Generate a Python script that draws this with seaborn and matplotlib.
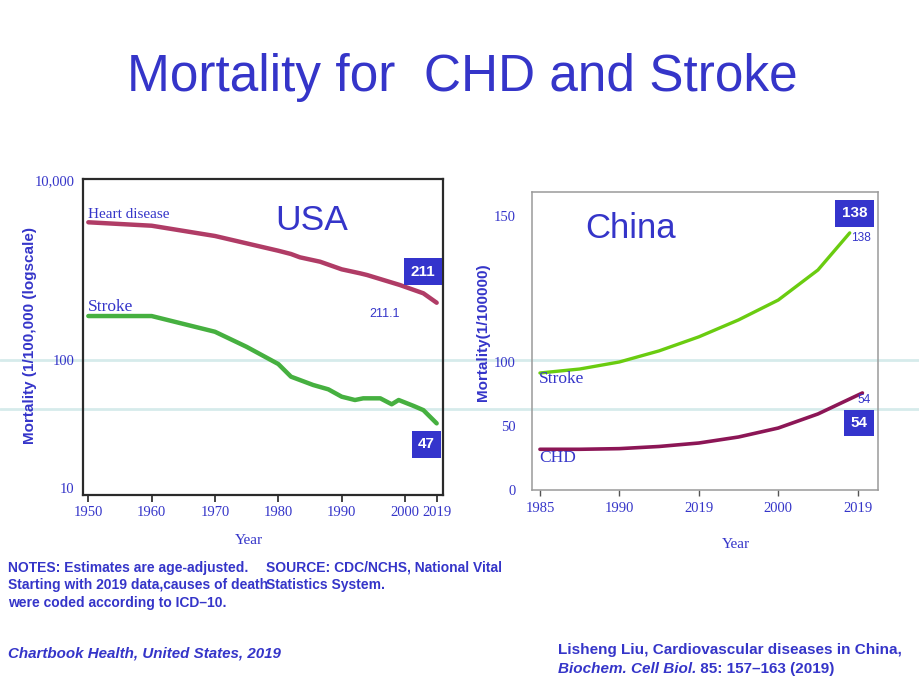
import numpy as np
import pandas as pd
import matplotlib
matplotlib.use('Agg')
import matplotlib.pyplot as plt
from matplotlib.lines import Line2D
from matplotlib.ticker import NullLocator
import seaborn as sns

# ---- data ----
usa_heart_years = [1950, 1960, 1970, 1980, 1982, 1983.4, 1986.6, 1990, 1992.9, 1994, 1999.2, 2002.9, 2005]
usa_heart = [3390, 3105, 2387, 1637, 1506, 1384, 1236, 1018, 919, 880, 681, 551, 433]

usa_stroke_years = [1950, 1960, 1970, 1975, 1980, 1982, 1983.4, 1985.5, 1987.9, 1990, 1992.1,
                    1993.4, 1996.1, 1997.9, 1999, 2001.4, 2002.9, 2005]
usa_stroke = [308, 308, 206, 140, 93, 74.1, 69.8, 63.8, 59.0, 51.7, 48.7,
              50.2, 50.2, 45.1, 48.7, 43.7, 40.6, 32]

usa_xticks = [1950, 1960, 1970, 1980, 1990, 2000, 2005]
usa_xlabels = ['1950', '1960', '1970', '1980', '1990', '2000', '2019']
usa_yticks = [10, 100, 10000]
usa_ylabels = ['10', '100', '10,000']

china_stroke_years = [1985, 1987.5, 1990, 1992.5, 1995, 1997.5, 2000, 2002.5, 2004.5]
china_stroke = [91.4, 94.5, 100, 103.8, 108.6, 114.4, 121.2, 131.5, 144.2]
china_chd_years = [1985, 1987.5, 1990, 1992.5, 1995, 1997.5, 2000, 2002.5, 2005.3]
china_chd = [31.8, 31.8, 32.3, 34.0, 36.7, 41.4, 48.4, 59.4, 75.8]

china_xticks = [1985, 1990, 1995, 2000, 2005]
china_xlabels = ['1985', '1990', '2019', '2000', '2019']
china_yticks = [0, 50, 100, 150]

BLUE = '#3535c9'
BOX = '#3434cc'
HEART = '#b03c66'
GREEN_US = '#46b040'
GREEN_CN = '#6acc10'
CHD = '#8c1656'
SERIF = 'Liberation Serif'
SANS = 'Liberation Sans'
NARROW = ['Liberation Sans Narrow', 'Liberation Sans']

sns.set_style('white')


# piecewise scales (the source picture is not evenly spaced)
def usa_fwd(y):
    l = np.log10(np.clip(y, 1e-6, None))
    return np.where(l <= 2, (l - 1) * 128, 128 + (l - 2) * 90)


def usa_inv(p):
    return np.where(p <= 128, 10 ** (1 + p / 128), 10 ** (2 + (p - 128) / 90))


def cn_fwd(y):
    y = np.asarray(y, dtype=float)
    return np.where(y <= 100, y * 1.28, 128 + (y - 100) * 2.92)


def cn_inv(p):
    p = np.asarray(p, dtype=float)
    return np.where(p <= 128, p / 1.28, 100 + (p - 128) / 2.92)


fig = plt.figure(figsize=(9.2, 6.9), dpi=100)
fig.patch.set_facecolor('white')

fig.text(0.503, 0.868, 'Mortality for  CHD and Stroke', ha='center', va='baseline',
         fontsize=37, color=BLUE, family=SANS)

# faint horizontal stripes that run across the whole slide (behind the charts)
for yp in (360, 409):
    fig.add_artist(Line2D([0, 1], [1 - yp / 690] * 2, transform=fig.transFigure,
                          color='#d6ebeb', lw=2, zorder=-1))

# ---------- USA ----------
ax1 = fig.add_axes([83 / 920, 1 - 495 / 690, 360 / 920, 316 / 690])
ax1.patch.set_visible(False)
ax1.set_yscale('function', functions=(usa_fwd, usa_inv))
sns.lineplot(x=usa_heart_years, y=usa_heart, ax=ax1, color=HEART, lw=3.2,
             solid_capstyle='round')
sns.lineplot(x=usa_stroke_years, y=usa_stroke, ax=ax1, color=GREEN_US, lw=3.2,
             solid_capstyle='round')
ax1.set_xlim(1949.16, 2006.0)
ax1.set_ylim(8.82, 10260)
ax1.set_xticks(usa_xticks)
ax1.set_xticklabels(usa_xlabels)
ax1.set_yticks(usa_yticks)
ax1.set_yticklabels(usa_ylabels)
ax1.yaxis.set_minor_locator(NullLocator())
ax1.tick_params(axis='x', length=5, width=1.2, color='#222222', direction='out',
                bottom=True, pad=3)
ax1.tick_params(axis='y', length=0, pad=6)
for lab in ax1.get_xticklabels() + ax1.get_yticklabels():
    lab.set_family(SERIF)
    lab.set_fontsize(10.5)
    lab.set_color(BLUE)
for s in ax1.spines.values():
    s.set_visible(True)
    s.set_color('#2a2a2a')
    s.set_linewidth(1.6)
ax1.set_xlabel('Year', family=SERIF, fontsize=11, color=BLUE, labelpad=8)
ax1.xaxis.set_label_coords(0.46, -0.125)
ax1.set_ylabel('Mortality (1/100,000 (logscale)', family=SANS, fontweight='bold',
               fontsize=11, color=BLUE)
ax1.yaxis.set_label_coords(-0.128, 0.505)

ax1.text(0.014, 0.889, 'Heart disease', transform=ax1.transAxes, family=SERIF,
         fontsize=11, color=BLUE, va='center', ha='left')
ax1.text(0.014, 0.595, 'Stroke', transform=ax1.transAxes, family=SERIF,
         fontsize=12.5, color=BLUE, va='center', ha='left')
ax1.text(0.635, 0.870, 'USA', transform=ax1.transAxes, family=SANS,
         fontsize=25.5, color=BLUE, va='center', ha='center')
ax1.text(0.8375, 0.573, '211.1', transform=ax1.transAxes, family=SANS,
         fontsize=9, color=BLUE, va='center', ha='center')
box = dict(boxstyle='square,pad=0.42', facecolor=BOX, edgecolor='none')
ax1.text(0.944, 0.707, '211', transform=ax1.transAxes, family=SANS, fontweight='bold',
         fontsize=11, color='white', va='center', ha='center', bbox=box)
ax1.text(0.954, 0.161, '47', transform=ax1.transAxes, family=SANS, fontweight='bold',
         fontsize=11, color='white', va='center', ha='center', bbox=box)

# ---------- China ----------
ax2 = fig.add_axes([532 / 920, 1 - 490 / 690, 346 / 920, 298 / 690])
ax2.patch.set_visible(False)
ax2.set_yscale('function', functions=(cn_fwd, cn_inv))
sns.lineplot(x=china_stroke_years, y=china_stroke, ax=ax2, color=GREEN_CN, lw=2.4,
             solid_capstyle='round')
sns.lineplot(x=china_chd_years, y=china_chd, ax=ax2, color=CHD, lw=2.6,
             solid_capstyle='round')
ax2.set_xlim(1984.5, 2006.28)
ax2.set_ylim(0, 158.2)
ax2.set_xticks(china_xticks)
ax2.set_xticklabels(china_xlabels)
ax2.set_yticks(china_yticks)
ax2.set_yticklabels([str(v) for v in china_yticks])
ax2.yaxis.set_minor_locator(NullLocator())
ax2.tick_params(axis='x', length=4, width=1, color='#555555', direction='out',
                bottom=True, pad=5)
ax2.tick_params(axis='y', length=0, pad=12)
for lab in ax2.get_xticklabels() + ax2.get_yticklabels():
    lab.set_family(SERIF)
    lab.set_fontsize(10.5)
    lab.set_color(BLUE)
for s in ax2.spines.values():
    s.set_visible(True)
    s.set_color('#9a9a9a')
    s.set_linewidth(1.1)
ax2.set_xlabel('Year', family=SERIF, fontsize=11, color=BLUE)
ax2.xaxis.set_label_coords(0.59, -0.16)
ax2.set_ylabel('Mortality(1/100000)', family=SANS, fontweight='bold',
               fontsize=11, color=BLUE)
ax2.yaxis.set_label_coords(-0.12, 0.53)

ax2.text(0.285, 0.876, 'China', transform=ax2.transAxes, family=SANS,
         fontsize=25, color=BLUE, va='center', ha='center')
ax2.text(0.020, 0.372, 'Stroke', transform=ax2.transAxes, family=SERIF,
         fontsize=12.5, color=BLUE, va='center', ha='left')
ax2.text(0.020, 0.107, 'CHD', transform=ax2.transAxes, family=SERIF,
         fontsize=12.5, color=BLUE, va='center', ha='left')
ax2.text(0.951, 0.846, '138', transform=ax2.transAxes, family=SANS,
         fontsize=8.6, color=BLUE, va='center', ha='center')
ax2.text(0.960, 0.302, '54', transform=ax2.transAxes, family=SANS,
         fontsize=8.6, color=BLUE, va='center', ha='center')
ax2.text(0.932, 0.928, '138', transform=ax2.transAxes, family=SANS, fontweight='bold',
         fontsize=11, color='white', va='center', ha='center', bbox=box)
ax2.text(0.944, 0.225, '54', transform=ax2.transAxes, family=SANS, fontweight='bold',
         fontsize=11, color='white', va='center', ha='center', bbox=box)

# ---------- notes ----------
note_kw = dict(family=NARROW, fontweight='bold', fontsize=10, color=BLUE, va='center')
fig.text(8 / 920, 1 - 568 / 690, 'NOTES: Estimates are age-adjusted.', **note_kw)
fig.text(8 / 920, 1 - 585 / 690, 'Starting with 2019 data,causes of death', **note_kw)
fig.text(8 / 920, 1 - 603 / 690, 'were coded according to ICD\u201310.', **note_kw)
fig.text(266 / 920, 1 - 568 / 690, 'SOURCE: CDC/NCHS, National Vital', **note_kw)
fig.text(266 / 920, 1 - 585 / 690, 'Statistics System.', **note_kw)

fig.text(8 / 920, 1 - 654 / 690, 'Chartbook Health, United States, 2019',
         family=NARROW, fontweight='bold', style='italic', fontsize=10.9, color=BLUE,
         va='center')
fig.text(558 / 920, 1 - 650 / 690, 'Lisheng Liu, Cardiovascular diseases in China,',
         family=NARROW, fontweight='bold', fontsize=11, color=BLUE, va='center')
t_it = fig.text(558 / 920, 1 - 669 / 690, 'Biochem. Cell Biol.',
                family=NARROW, fontweight='bold', style='italic', fontsize=11,
                color=BLUE, va='center')
# plain part follows straight after the italic journal name
ax2.annotate(' 85: 157\u2013163 (2019)', xy=(1, 0.5), xycoords=t_it,
             family=NARROW, fontweight='bold', fontsize=11, color=BLUE,
             va='center', ha='left', annotation_clip=False)

fig.savefig('out.png', dpi=100)
